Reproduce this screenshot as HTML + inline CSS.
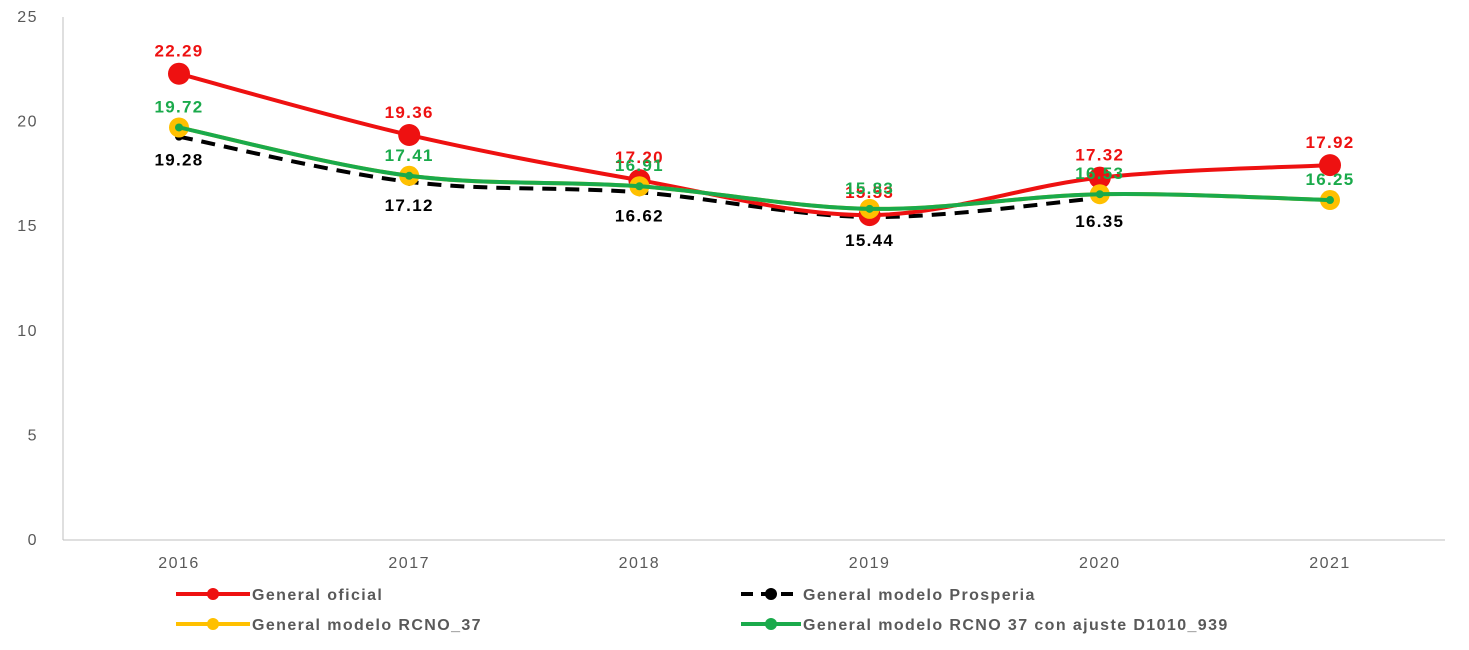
<!DOCTYPE html>
<html><head><meta charset="utf-8"><style>
body{margin:0;background:#fff;}
svg text{font-family:"Liberation Sans",sans-serif;}
</style></head><body>
<svg id="chart" width="1469" height="645" xmlns="http://www.w3.org/2000/svg">
<rect width="1469" height="645" fill="#fff"/>
<g id="axes"></g><g id="series"></g><g id="labels"></g><g id="legend"></g>
</svg>
<script>
const years=["2016","2017","2018","2019","2020","2021"];
const oficial=[22.29,19.36,17.20,15.53,17.32,17.92];
const prosperia=[19.28,17.12,16.62,15.44,16.35];
const rcno=[19.72,17.41,16.91,15.83,16.53,16.25];
const ajuste=[19.72,17.41,16.91,15.83,16.53,16.25];
const yTicks=[0,5,10,15,20,25];
const NS="http://www.w3.org/2000/svg";
const X=i=>179+i*230.2, Y=v=>540-v*20.92;
function mk(p,t,a){const e=document.createElementNS(NS,t);for(const k in a)e.setAttribute(k,a[k]);p.appendChild(e);return e;}
const ax=document.getElementById('axes');
let l=mk(ax,'line',{x1:63,y1:17,x2:63,y2:540,stroke:'#bfbfbf','stroke-width':1});


l=mk(ax,'line',{x1:63,y1:540,x2:1445,y2:540,stroke:'#bfbfbf','stroke-width':1});


yTicks.forEach(v=>{const t=mk(ax,'text',{x:38,y:Y(v)+5,'text-anchor':'end','font-size':16,fill:'#595959','letter-spacing':'1.5'});t.textContent=v;

});
years.forEach((y,i)=>{const t=mk(ax,'text',{x:X(i),y:568,'text-anchor':'middle','font-size':16,fill:'#595959','letter-spacing':'1.5'});t.textContent=y;

});
function smooth(vals){const p=vals.map((v,i)=>[X(i),Y(v)]);let d=`M${p[0][0]},${p[0][1]}`;
for(let i=0;i<p.length-1;i++){const p0=p[i-1]||p[i],p1=p[i],p2=p[i+1],p3=p[i+2]||p2;
const c1=[p1[0]+(p2[0]-p0[0])/6,p1[1]+(p2[1]-p0[1])/6],c2=[p2[0]-(p3[0]-p1[0])/6,p2[1]-(p3[1]-p1[1])/6];
d+=` C${c1[0]},${c1[1]} ${c2[0]},${c2[1]} ${p2[0]},${p2[1]}`;}return d;}
const sg=document.getElementById('series'),lg=document.getElementById('labels');
function series(vals,color,w,dash,r,name){
const g=mk(sg,'g',{});


const p=mk(g,'path',{d:smooth(vals),fill:'none',stroke:color,'stroke-width':w});if(dash)p.setAttribute('stroke-dasharray',dash);
vals.forEach((v,i)=>{const c=mk(g,'circle',{cx:X(i),cy:Y(v),r:r,fill:color});

});}
function labels(vals,color,dy,name){vals.forEach((v,i)=>{const t=mk(lg,'text',{x:X(i),y:Y(v)+dy,'text-anchor':'middle','font-size':17,'font-weight':'bold',fill:color,'letter-spacing':'1.3'});t.textContent=v.toFixed(2);

});}
series(prosperia,'#000',4,'14,9',4,'prosperia-series');
series(oficial,'#ee1111',4,null,11,'oficial-series');
series(rcno,'#ffc000',4,null,10,'rcno37-series');
series(ajuste,'#1aaa4b',4,null,4,'ajuste-series');
labels(oficial,'#ee1111',-17,'oficial');
labels(prosperia,'#000',29,'prosperia');
labels(ajuste,'#1aaa4b',-15,'ajuste');
const le=document.getElementById('legend');
function leg(x,y,len,color,dash,text,name){const g=mk(le,'g',{});


const ln=mk(g,'line',{x1:x,y1:y,x2:x+len,y2:y,stroke:color,'stroke-width':4});if(dash)ln.setAttribute('stroke-dasharray',dash);
mk(g,'circle',{cx:x+len/2,cy:y,r:6,fill:color});
const t=mk(g,'text',{x:x+len+2,y:y+6,'font-size':16,'font-weight':'bold',fill:'#595959','letter-spacing':'1.4'});t.textContent=text;}
leg(176,594,74,'#ee1111',null,'General oficial','legend-oficial');
leg(176,624,74,'#ffc000',null,'General modelo  RCNO_37','legend-rcno37');
leg(741,594,60,'#000','12,8','General modelo  Prosperia','legend-prosperia');
leg(741,624,60,'#1aaa4b',null,'General modelo RCNO 37 con ajuste D1010_939','legend-ajuste');
</script>
</body></html>
